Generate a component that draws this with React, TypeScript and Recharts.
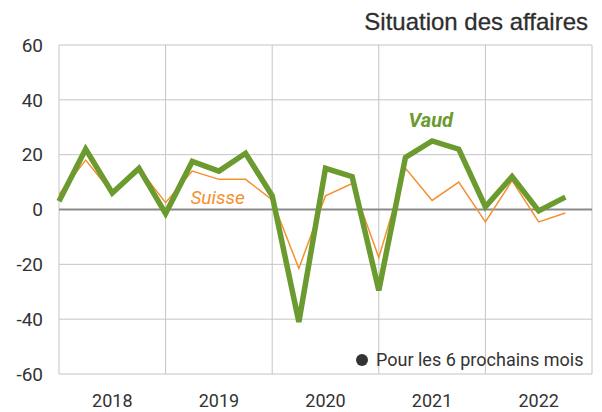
import React from 'react';
import { LineChart, Line, XAxis, YAxis, CartesianGrid, ReferenceLine, ReferenceDot } from 'recharts';

// quarterly index, 0 = start of 2018
const quarters = [0, 1, 2, 3, 4, 5, 6, 7, 8, 9, 10, 11, 12, 13, 14, 15, 16, 17, 18, 19];
const vaud = [3, 22, 6, 15, -1.5, 17.5, 14, 20.5, 5, -41, 15, 12, -29.5, 19, 25, 22, 1, 12, -0.5, 4.5];
const suisse = [5.5, 18, 6, 15, 2.5, 14, 11, 11, 3.5, -21.5, 5, 9.5, -17.5, 15, 3.3, 10, -4.5, 10.5, -4.5, -1.3];
const years = ['2018', '2019', '2020', '2021', '2022'];
const yearCenters = [2, 6, 10, 14, 18];
const yearBounds = [0, 4, 8, 12, 16, 20];
const yTicks = [-60, -40, -20, 0, 20, 40, 60];

const data = quarters.map((q, i) => ({ q, vaud: vaud[i], suisse: suisse[i] }));

const GREEN = '#6b9a2f';
const ORANGE = '#f5902f';
const TEXT = '#333';
const FONT = 'Roboto, sans-serif';

export default function App() {
  return (
    <div style={{ position: 'absolute', left: 0, top: 0, width: 602, height: 412, background: '#fff' }}>
      <div
        style={{
          position: 'absolute',
          right: 14,
          top: 8,
          fontFamily: '"Liberation Sans", Arial, sans-serif',
          fontSize: 24,
          color: '#2e2e2e',
          lineHeight: '28px',
          WebkitTextStroke: '0.3px #2e2e2e',
        }}
      >
        Situation des affaires
      </div>
      <LineChart width={602} height={412} data={data} margin={{ top: 45, right: 10, left: 0, bottom: 0 }}>
        <CartesianGrid vertical={false} stroke="#c4c4c4" />
        {yearBounds.map((b) => (
          <ReferenceLine key={b} x={b} stroke="#c4c4c4" />
        ))}
        <ReferenceLine y={0} stroke="#8a8a8a" strokeWidth={2} />
        <XAxis
          dataKey="q"
          type="number"
          domain={[0, 20]}
          ticks={yearCenters}
          tickFormatter={(v: number) => years[yearCenters.indexOf(v)]}
          axisLine={false}
          tickLine={false}
          height={38}
          tick={{ fill: TEXT, fontSize: 18, fontFamily: FONT, dy: 12 }}
        />
        <YAxis
          domain={[-60, 60]}
          ticks={yTicks}
          width={59}
          axisLine={false}
          tickLine={false}
          tick={{ fill: TEXT, fontSize: 19, fontFamily: FONT, dx: -8 }}
        />
        <Line
          dataKey="suisse"
          stroke={ORANGE}
          strokeWidth={1.5}
          dot={false}
          type="linear"
          isAnimationActive={false}
        />
        <Line
          dataKey="vaud"
          stroke={GREEN}
          strokeWidth={5.5}
          dot={false}
          type="linear"
          isAnimationActive={false}
        />
        <ReferenceDot
          x={13.95}
          y={32.5}
          r={0}
          label={{ value: 'Vaud', fill: GREEN, fontSize: 20, fontWeight: 'bold', fontStyle: 'italic', fontFamily: FONT }}
        />
        <ReferenceDot
          x={5.95}
          y={4.5}
          r={0}
          label={{ value: 'Suisse', fill: ORANGE, fontSize: 19, fontStyle: 'italic', fontFamily: FONT }}
        />
      </LineChart>
      <div
        style={{
          position: 'absolute',
          left: 356,
          top: 349,
          display: 'flex',
          alignItems: 'center',
          fontFamily: FONT,
          fontSize: 18,
          color: TEXT,
        }}
      >
        <span
          style={{ display: 'inline-block', width: 12, height: 12, borderRadius: 6, background: TEXT, marginRight: 8 }}
        />
        Pour les 6 prochains mois
      </div>
    </div>
  );
}
